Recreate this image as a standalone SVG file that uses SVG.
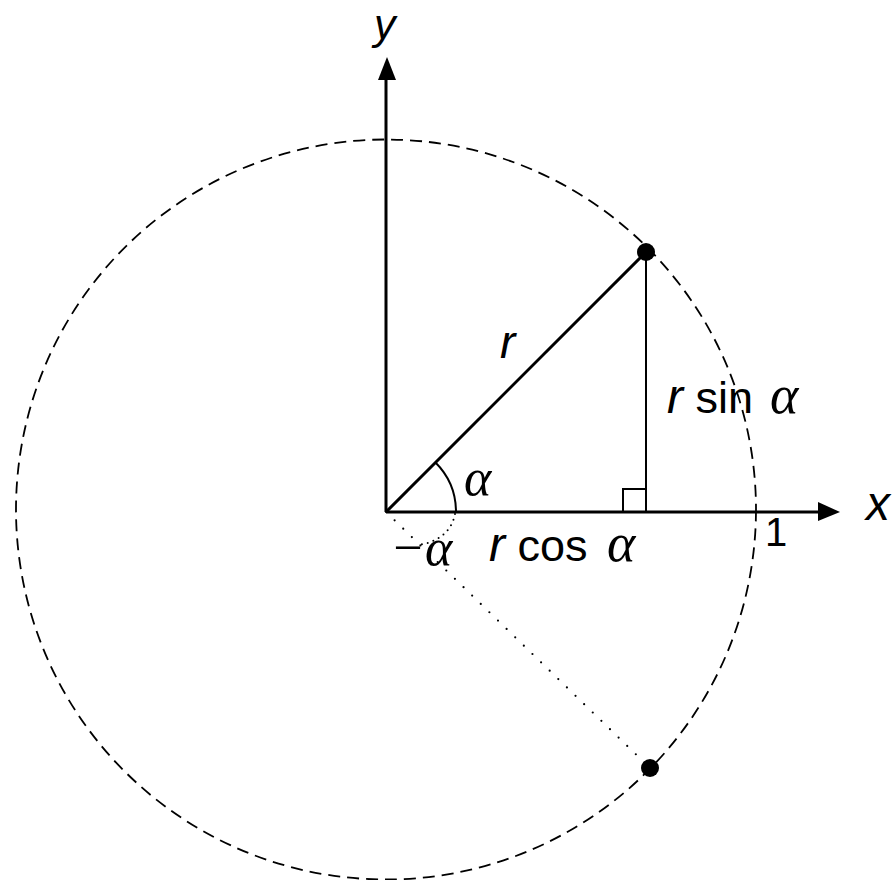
<svg xmlns="http://www.w3.org/2000/svg" width="894" height="880" viewBox="0 0 894 880">
<style>
.lbl{font-family:"Liberation Sans",Arial,sans-serif;fill:#000}
.it{font-style:italic}
.gr{font-family:"Liberation Serif","Times New Roman",serif;font-style:italic;fill:#000}
.thick{stroke:#000;stroke-width:3;fill:none}
.thin{stroke:#000;stroke-width:2;fill:none}
</style>
<rect width="894" height="880" fill="#fff"/>
<g id="circle">
<circle cx="386" cy="509.5" r="370" fill="none" stroke="#000" stroke-width="1.8" stroke-dasharray="12 7"/>
</g>
<g id="connectors">
<line class="thick" x1="386" y1="512" x2="386" y2="78"/>
<polygon points="387,57 378,80 396,80" fill="#000"/>
<line class="thick" x1="386" y1="512" x2="820" y2="512"/>
<polygon points="840,512 818,502 818,521" fill="#000"/>
<line class="thick" x1="386" y1="512" x2="646" y2="252"/>
<line class="thin" x1="646" y1="252" x2="646" y2="512"/>
<rect class="thin" x="623" y="489" width="23" height="23"/>
<path class="thin" d="M456 512 A70 70 0 0 0 435.5 462.5"/>
<line x1="386" y1="512" x2="650" y2="768" stroke="#000" stroke-width="2.2" stroke-linecap="round" stroke-dasharray="0 12"/>
<path d="M455 514 C452 530 440 542 418 545" stroke="#000" stroke-width="2" stroke-linecap="round" stroke-dasharray="0 6" fill="none"/>
</g>
<g id="points">
<circle cx="646" cy="252" r="9" fill="#000"/>
<circle cx="650" cy="768" r="9" fill="#000"/>
</g>
<g id="labels">
<text class="lbl it" x="374" y="39" font-size="43">y</text>
<text class="lbl it" x="866" y="520" font-size="48">x</text>
<text class="lbl" x="765" y="546" font-size="40">1</text>
<text class="lbl it" x="500" y="358" font-size="46">r</text>
<text class="lbl" x="667" y="413" font-size="45"><tspan class="it" font-size="48">r</tspan> sin</text>
<text class="gr" x="770" y="413" font-size="54">α</text>
<text class="gr" x="464" y="495" font-size="52">α</text>
<text class="gr" x="390" y="565" font-size="52">−α</text>
<text class="lbl" x="489" y="561" font-size="45"><tspan class="it" font-size="48">r</tspan> cos</text>
<text class="gr" x="607" y="561" font-size="54">α</text>
</g>
</svg>
